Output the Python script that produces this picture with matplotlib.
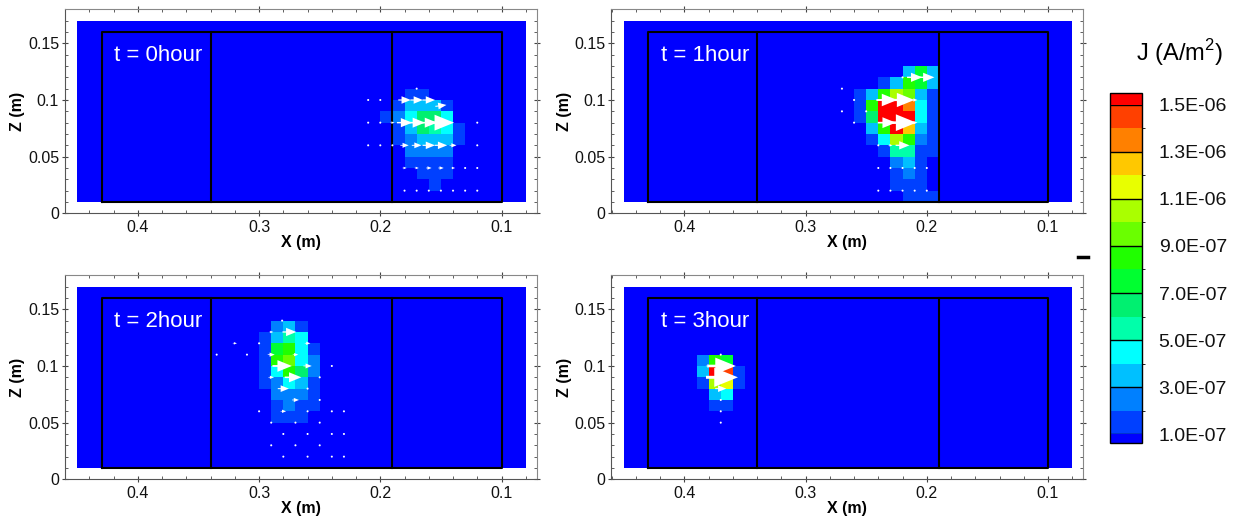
import numpy as np
import matplotlib.pyplot as plt
from matplotlib.colors import ListedColormap, BoundaryNorm
from matplotlib.ticker import MultipleLocator
from matplotlib.lines import Line2D

plt.rcParams['font.family'] = ['Liberation Sans', 'DejaVu Sans']
plt.rcParams['mathtext.fontset'] = 'custom'
plt.rcParams['mathtext.rm'] = 'Liberation Sans'

# contour levels and colours (bottom -> top)
levels = [i * 1e-7 for i in range(1, 16)]
level_colors = ['#0000FF', '#0040FF', '#0080FF', '#00C0FF', '#00FFFF', '#00FFAA',
                '#00F070', '#00FF30', '#20FF00', '#6AFF00', '#AAFF00', '#E8FF00',
                '#FFC800', '#FF8000', '#FF4000', '#FF0000']
cbar_ticks = [1.5e-6, 1.3e-6, 1.1e-6, 9e-7, 7e-7, 5e-7, 3e-7, 1e-7]

# model grid (m)
x_edges = np.round(np.arange(0.08, 0.4501, 0.01), 3)
z_edges = np.round(np.arange(0.01, 0.1701, 0.01), 3)

# J in units of 1e-7 A/m2, hot-spot blocks (rows from top, columns going to smaller x)
j_0h = [[0, 0, 1.5, 1.5, 0, 0, 0, 0],
        [0, 1.5, 3.5, 3.5, 3.5, 1.5, 0, 0],
        [1.5, 2.5, 4.5, 6.5, 6.5, 4.5, 0, 0],
        [0, 1.5, 3.5, 6.5, 5.5, 4.5, 1.5, 0],
        [0, 1.5, 2.5, 3.5, 3.5, 3.5, 1.5, 0],
        [0, 0, 2.5, 2.5, 2.5, 2.5, 0, 0],
        [0, 0, 1.5, 1.5, 1.5, 1.5, 0, 0],
        [0, 0, 0, 1.5, 1.5, 1.5, 0, 0],
        [0, 0, 0, 0, 1.5, 0, 0, 0]]
j_1h = [[0, 0, 0, 0, 0, 3.5, 7.5, 3.5],
        [0, 0, 0, 1.5, 3.5, 8.5, 7.5, 3.5],
        [0, 1.5, 3.5, 8.5, 10.5, 9.5, 3.5, 1.5],
        [0, 1.5, 8.5, 15.5, 15.5, 13.5, 4.5, 1.5],
        [0, 1.5, 6.5, 15.5, 15.5, 15.5, 4.5, 1.5],
        [0, 0, 3.5, 8.5, 15.5, 12.5, 3.5, 1.5],
        [0, 0, 1.5, 4.5, 10.5, 8.5, 2.5, 1.5],
        [0, 0, 0, 1.5, 5.5, 5.5, 1.5, 1.5],
        [0, 0, 0, 0, 2.5, 3.5, 1.5, 0],
        [0, 0, 0, 0, 1.5, 2.5, 1.5, 0],
        [0, 0, 0, 0, 1.5, 1.5, 1.5, 0],
        [0, 0, 0, 0, 0, 1.5, 1.5, 1.5]]
j_2h = [[0, 2.5, 3.5, 1.5, 0],
        [1.5, 3.5, 5.5, 4.5, 0],
        [1.5, 7.5, 8.5, 4.5, 1.5],
        [1.5, 8.5, 9.5, 4.5, 2.5],
        [1.5, 4.5, 8.5, 6.5, 2.5],
        [1.5, 2.5, 4.5, 3.5, 1.5],
        [0, 2.5, 2.5, 2.5, 1.5],
        [0, 1.5, 2.5, 1.5, 1.5],
        [0, 1.5, 1.5, 1.5, 0]]
j_3h = [[2.5, 8.5, 7.5, 0],
        [3.5, 15.5, 14.5, 1.5],
        [1.5, 10.5, 11.5, 1.5],
        [0, 3.5, 4.5, 0],
        [0, 1.5, 1.5, 0]]
block_corner = [(0.20, 0.11), (0.27, 0.13), (0.30, 0.14), (0.39, 0.11)]

# current vectors: node x, z and screen components (px)
q0_x = [0.21, 0.20, 0.18, 0.17, 0.16, 0.15, 0.17,
        0.21, 0.20, 0.19, 0.18, 0.17, 0.16, 0.15, 0.12,
        0.21, 0.20, 0.19, 0.18, 0.17, 0.16, 0.15, 0.14, 0.12,
        0.18, 0.17, 0.16, 0.15, 0.14, 0.13, 0.12,
        0.18, 0.17, 0.16, 0.15, 0.14, 0.13, 0.12]
q0_z = [0.10, 0.10, 0.10, 0.10, 0.10, 0.095, 0.11,
        0.08, 0.08, 0.08, 0.08, 0.08, 0.08, 0.08, 0.08,
        0.06, 0.06, 0.06, 0.06, 0.06, 0.06, 0.06, 0.06, 0.06,
        0.04, 0.04, 0.04, 0.04, 0.04, 0.04, 0.04,
        0.02, 0.02, 0.02, 0.02, 0.02, 0.02, 0.02]
q0_u = [1, 1, 9, 9, 9, 8, 1,
        1, 1, 3, 11, 12, 12, 19, 1,
        1, 1, 1, 6, 7, 9, 9, 5, 1,
        3, 3, 4, 4, 3, 1, 1,
        1, 1, 1, 1, 1, 1, 1]
q0_v = [0, 0, 0, 0, 0, 1, 0,
        0, 0, 0, 0, 0, 0, 0, 0,
        0, 0, 0, 0, 0, 0, 0, 0, 0,
        0, 0, 0, 0, 0, 0, 0,
        0, 0, 0, 0, 0, 0, 0]

q1_x = [0.22, 0.21, 0.20, 0.27, 0.26, 0.233, 0.22, 0.21, 0.27, 0.25,
        0.26, 0.233, 0.22, 0.21, 0.24, 0.23, 0.22,
        0.24, 0.23, 0.22, 0.21, 0.20, 0.24, 0.23, 0.22, 0.21, 0.20]
q1_z = [0.12, 0.12, 0.12, 0.11, 0.10, 0.10, 0.10, 0.10, 0.09, 0.09,
        0.08, 0.08, 0.08, 0.08, 0.06, 0.06, 0.06,
        0.04, 0.04, 0.04, 0.04, 0.04, 0.02, 0.02, 0.02, 0.02, 0.02]
q1_u = [1, 11, 11, 1, 1, 15, 17, 4, 1, 1,
        1, 13, 20, 4, 1, 3, 10,
        1, 1, 1, 1, 1, 1, 1, 1, 1, 1]
q1_v = [0] * len(q1_u)

q2_x = [0.281, 0.29, 0.275, 0.32, 0.30, 0.26, 0.335, 0.31, 0.29, 0.27,
        0.281, 0.26, 0.24, 0.29, 0.272, 0.25, 0.28, 0.26, 0.27, 0.25,
        0.30, 0.28, 0.26, 0.24, 0.23, 0.29, 0.27, 0.25,
        0.28, 0.26, 0.24, 0.23, 0.29, 0.27, 0.25, 0.28, 0.26, 0.24, 0.23]
q2_z = [0.14, 0.13, 0.13, 0.12, 0.12, 0.12, 0.11, 0.11, 0.11, 0.11,
        0.10, 0.10, 0.10, 0.09, 0.09, 0.09, 0.08, 0.08, 0.07, 0.07,
        0.06, 0.06, 0.06, 0.06, 0.06, 0.05, 0.05, 0.05,
        0.04, 0.04, 0.04, 0.04, 0.03, 0.03, 0.03, 0.02, 0.02, 0.02, 0.02]
q2_u = [1, 3, 10, 3, 1, 4, 1, 1, 5, 4,
        14, 6, 1, 4, 12, 1, 8, 1, 5, 1,
        1, 4, 1, 1, 1, 1, 1, 1,
        1, 1, 1, 1, 1, 1, 1, 1, 1, 1, 1]
q2_v = [0] * len(q2_u)

q3_x = [0.37, 0.38, 0.369, 0.36, 0.369, 0.37, 0.37, 0.37, 0.37]
q3_z = [0.11, 0.10, 0.10, 0.10, 0.09, 0.08, 0.07, 0.06, 0.05]
q3_u = [1, 4, 20, 1, 23, 8, 1, 1, 1]
q3_v = [0] * len(q3_u)

labels = ['t = 0hour', 't = 1hour', 't = 2hour', 't = 3hour']

cmap = ListedColormap(level_colors)
norm = BoundaryNorm(levels, ncolors=cmap.N, extend='both')


def make_field(block, x_hi, z_hi):
    J = np.zeros((len(z_edges) - 1, len(x_edges) - 1))
    c0 = int(round((x_hi - 0.08) / 0.01))
    r0 = int(round((z_hi - 0.01) / 0.01))
    for j, row in enumerate(block):
        for i, val in enumerate(row):
            J[r0 - j - 1, c0 - i - 1] = val * 1e-7
    return J


def draw_panel(ax, block, corner, qx, qz, qu, qv, label):
    J = make_field(block, *corner)
    m = ax.pcolormesh(x_edges, z_edges, J, cmap=cmap, norm=norm, shading='flat')
    # electrode / section outline
    ax.plot([0.43, 0.10, 0.10, 0.43, 0.43], [0.01, 0.01, 0.16, 0.16, 0.01], color='k', lw=1.5)
    for xv in (0.34, 0.19):
        ax.plot([xv, xv], [0.01, 0.16], color='k', lw=1.5)
    ax.quiver(qx, qz, qu, qv, angles='uv', scale_units='dots', scale=0.72,
              units='dots', width=3.0, headwidth=6.5, headlength=8,
              headaxislength=8, minshaft=1.35, minlength=0.75,
              pivot='middle', color='white', zorder=4)
    ax.text(0.4195, 0.139, label, color='white', fontsize=16, ha='left', va='center')
    ax.set_xlim(0.4605, 0.0711)
    ax.set_ylim(0, 0.18)
    ax.set_xticks([0.4, 0.3, 0.2, 0.1], ['0.4', '0.3', '0.2', '0.1'])
    ax.set_yticks([0, 0.05, 0.1, 0.15], ['0', '0.05', '0.1', '0.15'])
    ax.xaxis.set_minor_locator(MultipleLocator(0.02))
    ax.yaxis.set_minor_locator(MultipleLocator(0.01))
    ax.tick_params(which='both', top=True, right=True, colors='#444444',
                   labelcolor='#111111', labelsize=11.5)
    ax.tick_params(which='major', direction='inout', length=5)
    ax.tick_params(which='minor', direction='in', length=2.5)
    ax.tick_params(axis='x', which='major', pad=2.5)
    ax.tick_params(axis='y', which='major', pad=1.5)
    ax.set_xlabel('X (m)', fontweight='bold', fontsize=11.5, labelpad=0)
    ax.set_ylabel('Z (m)', fontweight='bold', fontsize=11.5, labelpad=2)
    for s in ('left', 'bottom'):
        ax.spines[s].set_color('#555555')
    for s in ('top', 'right'):
        ax.spines[s].set_color('#888888')
    return m


fig = plt.figure(figsize=(12.44, 5.24), dpi=100)
positions = [[0.0519, 0.5929, 0.3794, 0.3893], [0.4912, 0.5929, 0.3794, 0.3893],
             [0.0519, 0.0853, 0.3794, 0.3893], [0.4912, 0.0853, 0.3794, 0.3893]]
blocks = [j_0h, j_1h, j_2h, j_3h]
quivers = [(q0_x, q0_z, q0_u, q0_v), (q1_x, q1_z, q1_u, q1_v),
           (q2_x, q2_z, q2_u, q2_v), (q3_x, q3_z, q3_u, q3_v)]

for pos, block, corner, q, lab in zip(positions, blocks, block_corner, quivers, labels):
    ax = fig.add_axes(pos)
    mesh = draw_panel(ax, block, corner, *q, lab)

# colour bar
cax = fig.add_axes([1110 / 1244, 1 - 443 / 524, 32 / 1244, 350 / 524])
cb = fig.colorbar(mesh, cax=cax, extend='both', extendrect=True,
                  extendfrac=(0.027, 0.036))
cb.set_ticks(cbar_ticks, labels=[f'{t:.1E}' for t in cbar_ticks])
cb.ax.tick_params(length=0, pad=12, labelsize=14, labelcolor='#111111')
cb.outline.set_edgecolor('k')
cb.outline.set_linewidth(1)
for t in cbar_ticks:
    cax.axhline(t, color='k', lw=1)
fig.text(1179 / 1244, 1 - 53 / 524, 'J (A/m$^2$)', ha='center', va='center', fontsize=17)

# stray dash left of the colour bar
fig.add_artist(Line2D([1078 / 1244, 1088 / 1244], [1 - 257 / 524] * 2, color='k', lw=2.5))

fig.savefig('out.png', dpi=100)
